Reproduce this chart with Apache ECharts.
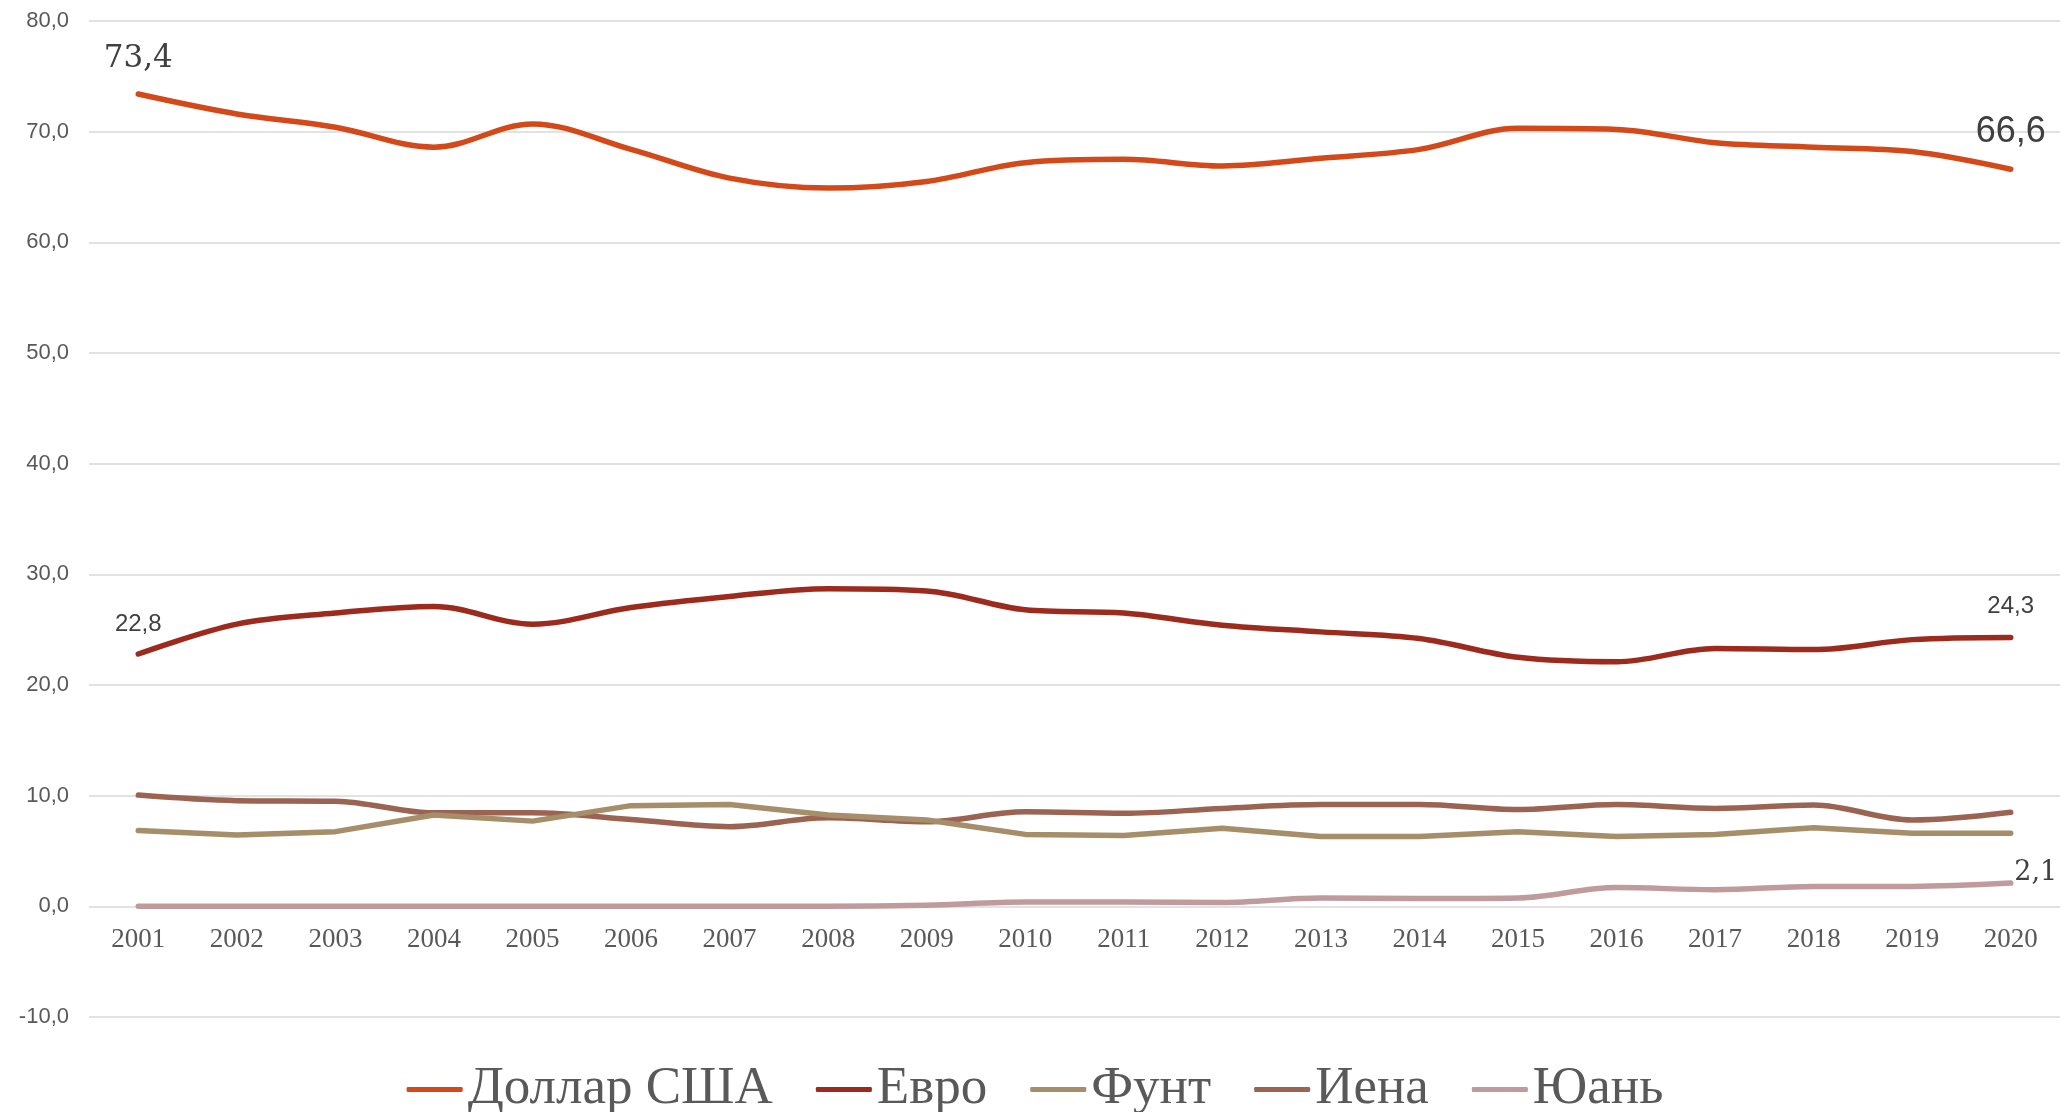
<!DOCTYPE html>
<html>
<head>
<meta charset="utf-8">
<script src="https://cdn.jsdelivr.net/npm/echarts@6/dist/echarts.min.js"></script>
<style>
  html, body { margin: 0; padding: 0; background: #fff; }
  #chart { width: 2070px; height: 1112px; }
</style>
</head>
<body>
<div id="chart"></div>
<script>
const years = ['2001', '2002', '2003', '2004', '2005', '2006', '2007', '2008', '2009', '2010',
  '2011', '2012', '2013', '2014', '2015', '2016', '2017', '2018', '2019', '2020'];
const usd = [73.4, 71.6, 70.4, 68.6, 70.7, 68.4, 65.8, 64.9, 65.5, 67.2,
  67.5, 66.9, 67.6, 68.4, 70.3, 70.2, 69.0, 68.6, 68.2, 66.6];
const eur = [22.8, 25.5, 26.5, 27.1, 25.5, 27.0, 28.0, 28.7, 28.5, 26.8,
  26.5, 25.4, 24.8, 24.2, 22.5, 22.1, 23.3, 23.2, 24.1, 24.3];
const gbp = [6.85, 6.45, 6.75, 8.25, 7.7, 9.1, 9.2, 8.25, 7.8, 6.5,
  6.4, 7.05, 6.3, 6.3, 6.75, 6.3, 6.5, 7.1, 6.6, 6.6];
const jpy = [10.05, 9.55, 9.5, 8.45, 8.45, 7.85, 7.2, 8.0, 7.65, 8.55,
  8.4, 8.85, 9.2, 9.2, 8.75, 9.2, 8.85, 9.15, 7.8, 8.5];
const cny = [0, 0, 0, 0, 0, 0, 0, 0, 0.1, 0.4,
  0.4, 0.35, 0.75, 0.7, 0.75, 1.7, 1.5, 1.8, 1.8, 2.1];
const names = ['Доллар США', 'Евро', 'Фунт', 'Иена', 'Юань'];
const colors = ['#D4491A', '#9C2B1E', '#A58E69', '#9B6352', '#BF9B9C'];

const fmt = function (v) { return v.toFixed(1).replace('.', ','); };

// labels only on chosen points
function withLabels(values, labels) {
  return values.map(function (v, i) {
    if (labels[i]) {
      return { value: v, label: Object.assign({ show: true, formatter: fmt(v) }, labels[i]) };
    }
    return v;
  });
}

const bigSerif = { fontFamily: 'DejaVu Serif', fontSize: 31, color: '#404040' };
const bigSans = { fontFamily: 'Liberation Sans', fontSize: 36, color: '#404040' };
const smallSans = { fontFamily: 'Liberation Sans', fontSize: 24, color: '#404040' };

const usdLabels = {};
usdLabels[0] = Object.assign({ position: 'top', distance: 19 }, bigSerif);
usdLabels[19] = Object.assign({ position: 'top', distance: 19 }, bigSans);
const eurLabels = {};
eurLabels[0] = Object.assign({ position: 'top', distance: 17 }, smallSans);
eurLabels[19] = Object.assign({ position: 'top', distance: 19 }, smallSans);
const cnyLabels = {};
cnyLabels[19] = Object.assign({ position: 'right', distance: 3, offset: [0, -10] },
  bigSerif, { fontSize: 27 });

const seriesData = [
  withLabels(usd, usdLabels),
  withLabels(eur, eurLabels),
  gbp,
  jpy,
  withLabels(cny, cnyLabels)
];
const smoothing = [0.35, 0.35, false, 0.35, 0.35];

var myChart = echarts.init(document.getElementById('chart'), null, { renderer: 'canvas' });

var option = {
  animation: false,
  backgroundColor: '#ffffff',
  color: colors,
  grid: {
    left: 89,
    right: 10,
    top: 21,
    bottom: 95,
    containLabel: false,
    outerBoundsMode: 'none'
  },
  legend: {
    data: names.map(function (n) { return { name: n, icon: 'roundRect' }; }),
    left: 'center',
    top: 1058,
    itemWidth: 56,
    itemHeight: 5,
    itemGap: 43,
    textStyle: {
      fontFamily: 'Liberation Serif',
      fontSize: 53,
      color: '#595959'
    }
  },
  xAxis: {
    type: 'category',
    data: years,
    boundaryGap: true,
    axisLine: { show: false },
    axisTick: { show: false },
    // year labels sit just under the zero line, inside the plot
    axisLabel: {
      inside: true,
      margin: 64,
      fontFamily: 'Liberation Serif',
      fontSize: 27,
      color: '#595959'
    },
    splitLine: { show: false }
  },
  yAxis: {
    type: 'value',
    min: -10,
    max: 80,
    interval: 10,
    axisLine: { show: false },
    axisTick: { show: false },
    axisLabel: {
      margin: 20,
      fontFamily: 'Liberation Sans',
      fontSize: 22,
      color: '#595959',
      formatter: fmt
    },
    splitLine: { lineStyle: { color: '#D9D9D9', width: 1.5 } }
  },
  series: names.map(function (n, i) {
    return {
      name: n,
      type: 'line',
      data: seriesData[i],
      smooth: smoothing[i],
      showSymbol: true,
      symbol: 'circle',
      symbolSize: 1,
      itemStyle: { color: colors[i] },
      lineStyle: { width: 5.5, color: colors[i], cap: 'round', join: 'round' },
      z: 10 - i
    };
  })
};

myChart.setOption(option);
window.addEventListener('resize', myChart.resize);
</script>
</body>
</html>
